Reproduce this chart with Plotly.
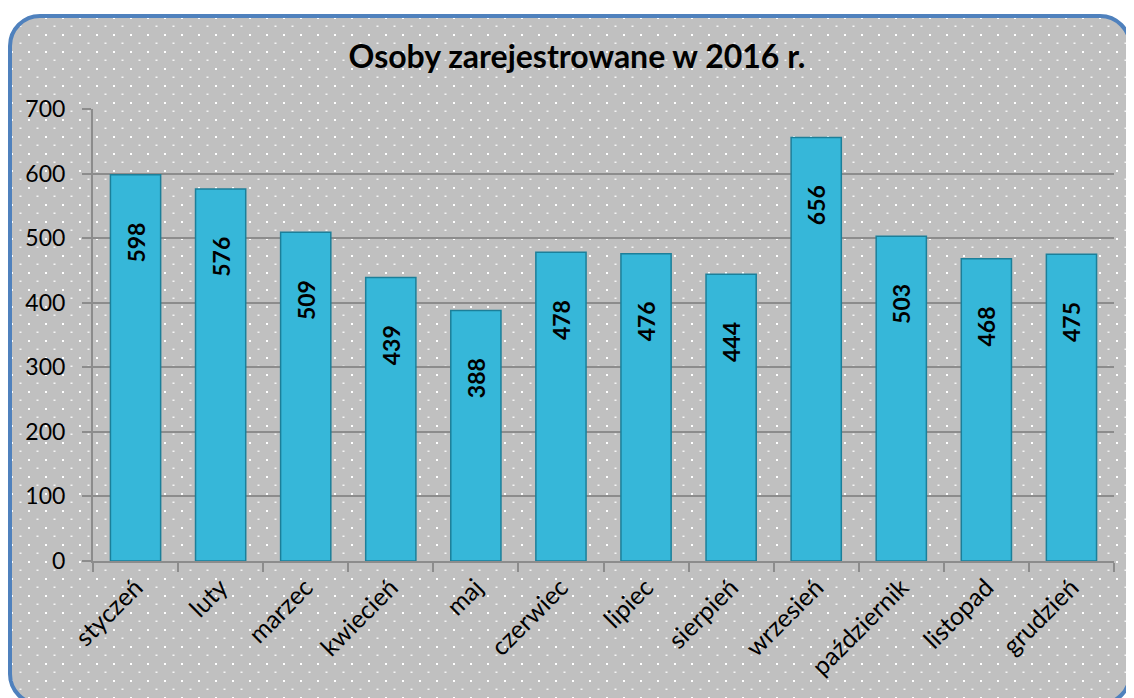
import base64
import plotly.graph_objects as go

months = ["styczeń", "luty", "marzec", "kwiecień", "maj", "czerwiec", "lipiec",
          "sierpień", "wrzesień", "październik", "listopad", "grudzień"]
registered = [598, 576, 509, 439, 388, 478, 476, 444, 656, 503, 468, 475]
y_ticks = [0, 100, 200, 300, 400, 500, 600, 700]
title_text = "Osoby zarejestrowane w 2016 r."

# page has an 8px body margin, so the figure is 8px smaller than the window
W, H = 1126, 690
ml, mr, mt, mb = 85, 20, 101, 137
pw, ph = W - ml - mr, H - mt - mb

# background frame with dotted pattern and rounded blue border
fx0, fy0, fx1, fy1 = 0, 6, 1124, 698
fw, fh = fx1 - fx0, fy1 - fy0
svg = (
    f"<svg xmlns='http://www.w3.org/2000/svg' width='{fw}' height='{fh}' viewBox='0 0 {fw} {fh}'>"
    "<defs><pattern id='p' width='17' height='17' patternUnits='userSpaceOnUse'>"
    "<rect width='17' height='17' fill='#C0C0C0'/>"
    "<rect x='3' y='3' width='2' height='2' fill='#FFFFFF'/>"
    "<rect x='11.5' y='11.5' width='2' height='1.5' fill='#F4F4F4'/>"
    "</pattern></defs>"
    f"<rect x='2' y='2' width='{fw-4}' height='{fh-4}' rx='30' ry='30' fill='url(#p)' "
    "stroke='#4F81BD' stroke-width='4'/></svg>"
)
src = "data:image/svg+xml;base64," + base64.b64encode(svg.encode()).decode()

FONT = "Lato, Open Sans, sans-serif"
pad = "\u00a0" * 8

fig = go.Figure()
fig.add_trace(go.Bar(
    x=months, y=registered,
    text=[f"{v}{pad}" for v in registered],
    textposition="inside", insidetextanchor="end", textangle=-90,
    textfont=dict(family=FONT, size=23, color="black", weight="bold"),
    marker=dict(color="#36B7D9", line=dict(color="#1C7F99", width=1.5)),
    width=0.59,
))

fig.update_layout(
    width=W, height=H,
    margin=dict(l=ml, r=mr, t=mt, b=mb, autoexpand=False),
    paper_bgcolor="white", plot_bgcolor="rgba(0,0,0,0)",
    showlegend=False,
    title=dict(text=f"<b>{title_text}</b>", x=569 / W, xref="container",
               xanchor="center", y=1 - 49 / H, yanchor="middle",
               font=dict(family=FONT, size=32, color="black")),
    font=dict(family=FONT, color="black"),
    images=[dict(source=src, xref="paper", yref="paper",
                 x=(fx0 - ml) / pw, y=(H - mb - fy0) / ph,
                 sizex=fw / pw, sizey=fh / ph, sizing="stretch",
                 xanchor="left", yanchor="top", layer="below")],
    xaxis=dict(tickangle=-45, tickfont=dict(size=25), showline=True, linecolor="#8C8C8C",
               linewidth=2, ticks="outside", tickson="boundaries", ticklen=9,
               tickcolor="#8C8C8C", tickwidth=2, showgrid=False),
    yaxis=dict(range=[0, 700], tickvals=y_ticks, tickfont=dict(size=23),
               showline=True, linecolor="#8C8C8C", linewidth=2, ticks="outside",
               ticklen=9, tickcolor="#8C8C8C", tickwidth=2, ticklabelstandoff=12,
               showgrid=True, gridcolor="#8C8C8C", gridwidth=2, zeroline=False),
)

fig.write_html("out.html")
